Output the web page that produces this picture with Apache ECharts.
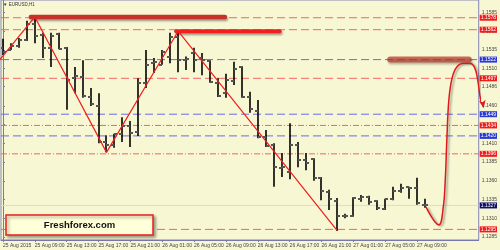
<!DOCTYPE html>
<html><head><meta charset="utf-8">
<script src="https://cdn.jsdelivr.net/npm/echarts@6/dist/echarts.min.js"></script>
<style>html,body{margin:0;padding:0;background:#F8F7D3;}#c{width:500px;height:250px;}</style>
</head><body><div id="c"></div>
<script>
// ---- data ----
const xTickLabels = ['25 Aug 2015','25 Aug 09:00','25 Aug 13:00','25 Aug 17:00','25 Aug 21:00','26 Aug 01:00','26 Aug 05:00','26 Aug 09:00','26 Aug 13:00','26 Aug 17:00','26 Aug 21:00','27 Aug 01:00','27 Aug 05:00','27 Aug 09:00'];
const barsPerLabel = 4;
const yTickValues = [1.1585,1.1560,1.1535,1.1510,1.1486,1.1460,1.1435,1.1410,1.1385,1.1360,1.1335,1.1310,1.1285];

const openP = [1.1538,1.1535,1.1540,1.1548,1.1570,1.1555,1.1538,1.1556,1.1538,1.1497,
1.1499,1.1472,1.1460,1.1412,1.1408,1.1423,1.1433,1.1425,1.1491,1.1517,
1.1515,1.1526,1.1552,1.1521,1.1531,1.1524,1.1520,1.1491,1.1477,1.1493,
1.1512,1.1472,1.1453,1.1419,1.1408,1.1377,1.1372,1.1408,1.1388,1.1389,
1.1364,1.1345,1.1333,1.1313,1.1313,1.1336,1.1338,1.1333,1.1322,1.1336,
1.1346,1.1352,1.1350,1.1328];
const highP = [1.1550,1.1544,1.1551,1.1574,1.1579,1.1558,1.1558,1.1558,1.1539,1.1512,
1.1521,1.1484,1.1477,1.1421,1.1423,1.1445,1.1440,1.1497,1.1535,1.1524,
1.1535,1.1558,1.1560,1.1526,1.1538,1.1531,1.1521,1.1497,1.1503,1.1519,
1.1513,1.1479,1.1468,1.1428,1.1410,1.1397,1.1437,1.1412,1.1397,1.1390,
1.1365,1.1348,1.1337,1.1316,1.1338,1.1341,1.1340,1.1334,1.1336,1.1352,
1.1356,1.1352,1.1364,1.1336];
const lowP = [1.1528,1.1535,1.1538,1.1547,1.1544,1.1524,1.1512,1.1536,1.1455,1.1477,
1.1471,1.1460,1.1410,1.1398,1.1404,1.1412,1.1405,1.1420,1.1484,1.1504,
1.1515,1.1517,1.1505,1.1508,1.1505,1.1501,1.1491,1.1472,1.1471,1.1488,
1.1471,1.1451,1.1417,1.1405,1.1352,1.1365,1.1362,1.1378,1.1374,1.1360,
1.1334,1.1321,1.1293,1.1310,1.1312,1.1332,1.1328,1.1321,1.1321,1.1334,
1.1344,1.1336,1.1328,1.1324];
const closeP = [1.1532,1.1540,1.1548,1.1570,1.1554,1.1538,1.1554,1.1536,1.1495,1.1500,
1.1473,1.1463,1.1412,1.1408,1.1423,1.1433,1.1424,1.1491,1.1515,1.1519,
1.1532,1.1552,1.1521,1.1523,1.1521,1.1521,1.1492,1.1473,1.1495,1.1509,
1.1472,1.1456,1.1419,1.1406,1.1378,1.1378,1.1408,1.1388,1.1384,1.1364,
1.1346,1.1336,1.1313,1.1313,1.1337,1.1338,1.1332,1.1324,1.1336,1.1346,
1.1350,1.1350,1.1330,1.1328];

const redDashLevels = [1.1578, 1.1562, 1.1497, 1.1295];
const blueDashLevels = [1.1522, 1.1449, 1.1420];
const redDashDotLevels = [1.1434, 1.1396];
const lastPrice = 1.1327;

const zigzagIdx = [-1, 4, 13, 22, 42];
const zigzagPrice = [1.1514, 1.1579, 1.1398, 1.1560, 1.1293];

const zoneStart = [3.5, 21.75, 48.625];
const zoneEnd = [27.875, 34.75, 58.5];
const zonePrice = [1.1579, 1.1560, 1.1522];

const curveIdx = [53.125, 54.75, 55.3, 55.55, 55.75, 56.0, 56.4, 57.0, 57.875, 58.625, 59.25, 59.625, 60, 60.375];
const curvePrice = [1.1325, 1.1301, 1.1325, 1.1361, 1.1415, 1.1468, 1.1497, 1.1512, 1.1517, 1.1517, 1.1511, 1.1495, 1.1468, 1.1457];

// ---- build ----
const FONT = 'Liberation Sans';
const X_MIN = -0.25, X_MAX = 59.75;
const ohlc = openP.map((o, i) => [i, o, highP[i], lowP[i], closeP[i]]);

function renderBar(params, api) {
  const i = api.value(0);
  const o = api.coord([i, api.value(1)]);
  const h = api.coord([i, api.value(2)]);
  const l = api.coord([i, api.value(3)]);
  const c = api.coord([i, api.value(4)]);
  const x = Math.round(h[0]);
  return {type: 'group', children: [
    {type: 'line', shape: {x1: x, y1: h[1], x2: x, y2: l[1]}, style: {stroke: '#000', lineWidth: 1.6}},
    {type: 'line', shape: {x1: x - 3, y1: Math.round(o[1]), x2: x, y2: Math.round(o[1])}, style: {stroke: '#555', lineWidth: 2}},
    {type: 'line', shape: {x1: x, y1: Math.round(c[1]), x2: x + 3, y2: Math.round(c[1])}, style: {stroke: '#555', lineWidth: 2}}
  ]};
}

function levelSeries(v, color, type, boxColor) {
  return {
    type: 'line', z: 1, symbol: 'none', silent: true, clip: false,
    data: [[X_MIN, v], [X_MAX, v]],
    lineStyle: {color: color, type: type, width: 1},
    endLabel: {show: true, distance: 1, formatter: v.toFixed(4),
      backgroundColor: boxColor, color: '#fff', fontSize: 5, fontFamily: FONT,
      padding: [1, 1, 0, 1]}
  };
}

const levels = [];
redDashLevels.forEach(v => levels.push(levelSeries(v, '#F26464', [8, 4], '#F21C1C')));
blueDashLevels.forEach(v => levels.push(levelSeries(v, '#6A6AF0', [8, 4], '#2A3AD8')));
redDashDotLevels.forEach(v => levels.push(levelSeries(v, '#F26464', [6, 2, 1, 2], '#F21C1C')));
levels.push(levelSeries(lastPrice, '#DCDCD0', 'solid', '#10106A'));

const zoneStyles = [
  {color: '#C8302A', width: 4.5},
  {color: '#EE2020', width: 4},
  {color: 'rgba(185,55,45,0.72)', width: 6}
];
const zoneSeries = zoneStart.map((s, k) => ({
  type: 'line', z: 4, symbol: 'none', silent: true,
  data: [[s, zonePrice[k]], [zoneEnd[k], zonePrice[k]]],
  lineStyle: Object.assign({shadowColor: 'rgba(0,0,0,0.35)', shadowBlur: 2, shadowOffsetX: 1, shadowOffsetY: 2, cap: 'round'}, zoneStyles[k])
}));

const curveData = curveIdx.map((x, k) => k === curveIdx.length - 1
  ? {value: [x, curvePrice[k]], symbol: 'arrow', symbolSize: [5, 8], symbolRotate: 190, itemStyle: {color: '#E01818'}}
  : [x, curvePrice[k]]);

const chart = echarts.init(document.getElementById('c'), null, {renderer: 'canvas'});
chart.setOption({
  animation: false,
  backgroundColor: '#F8F7D3',
  grid: {left: 0, right: 20, top: 0, bottom: 10, show: true, borderColor: '#8585B8', borderWidth: 1, backgroundColor: 'transparent'},
  xAxis: {
    type: 'value', min: X_MIN, max: X_MAX,
    splitLine: {show: false},
    axisLine: {show: true, lineStyle: {color: '#7878B0'}},
    axisTick: {show: true, length: 2, lineStyle: {color: '#7878B0'}, customValues: xTickLabels.map((t, k) => k * barsPerLabel)},
    axisLabel: {show: true, fontSize: 5, fontFamily: FONT, color: '#444', align: 'left', margin: 3,
      customValues: xTickLabels.map((t, k) => k * barsPerLabel),
      formatter: v => xTickLabels[Math.round(v / barsPerLabel)] || ''}
  },
  yAxis: {
    type: 'value', position: 'right', min: 1.12808, max: 1.16017, scale: true,
    splitLine: {show: false},
    axisLine: {show: true, lineStyle: {color: '#7878B0'}},
    axisTick: {show: true, length: 2, lineStyle: {color: '#7878B0'}, customValues: yTickValues},
    axisLabel: {show: true, fontSize: 5, fontFamily: FONT, color: '#444', margin: 3,
      customValues: yTickValues, formatter: v => v.toFixed(4)}
  },
  series: [
    ...levels,
    {type: 'custom', z: 3, renderItem: renderBar, data: ohlc, encode: {x: 0, y: [1, 2, 3, 4]}, clip: true},
    {type: 'line', z: 5, symbol: 'none', clip: true, data: zigzagIdx.map((x, k) => [x, zigzagPrice[k]]),
      lineStyle: {color: '#F01E1E', width: 1.2}},
    ...zoneSeries,
    {type: 'line', z: 6, smooth: 0.4, symbol: 'none', showSymbol: true, clip: false, data: curveData,
      lineStyle: {color: '#E01818', width: 1.5, shadowColor: 'rgba(0,0,0,0.35)', shadowBlur: 2, shadowOffsetX: 2, shadowOffsetY: 1}}
  ],
  graphic: [
    {type: 'text', x: 3, y: 2, z: 10, style: {text: '▼ EURUSD,H1', fontSize: 4.5, fontFamily: FONT, fill: '#333'}},
    {type: 'rect', z: 10, shape: {x: 6, y: 215, width: 147, height: 20},
      style: {fill: '#FFFFD8', stroke: '#E82020', lineWidth: 1.5, shadowBlur: 3, shadowColor: 'rgba(0,0,0,0.35)', shadowOffsetX: 2, shadowOffsetY: 2}},
    {type: 'text', z: 11, x: 79.5, y: 225.5, style: {text: 'Freshforex.com', fontSize: 9.5, fontWeight: 'bold', fontFamily: FONT, fill: '#111', align: 'center', verticalAlign: 'middle'}}
  ]
});
</script>
</body></html>
